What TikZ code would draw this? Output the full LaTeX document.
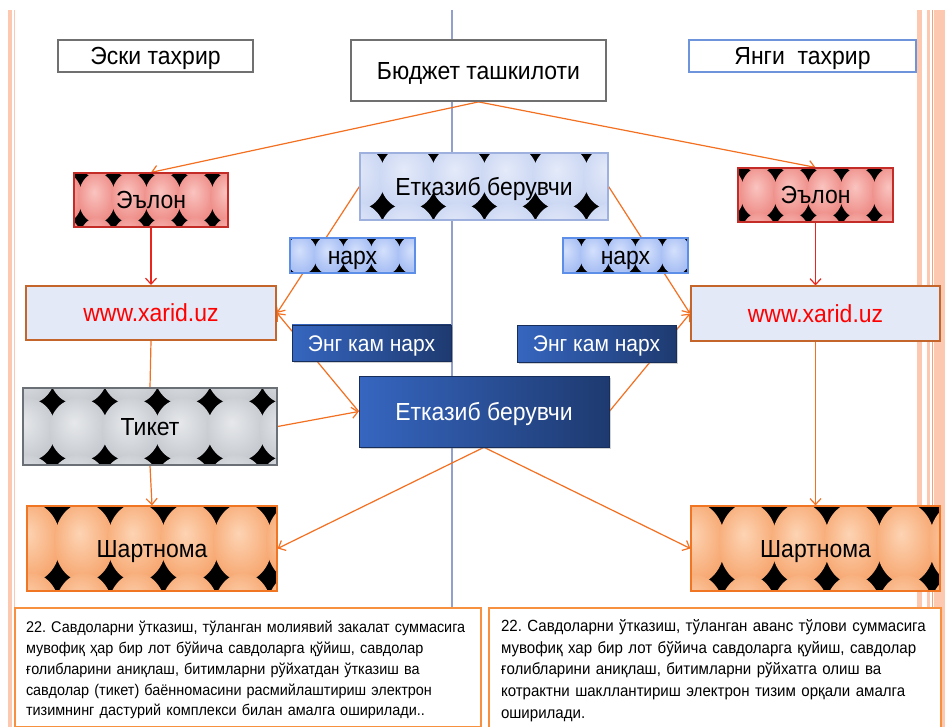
\documentclass[tikz,border=0pt]{standalone}
\usepackage{fontspec}
\setmainfont{Liberation Sans}[FakeStretch=0.93]
\usetikzlibrary{arrows.meta,shadows}
\frenchspacing
\definecolor{orng}{RGB}{243,112,33}
\definecolor{redl}{RGB}{232,38,30}
\definecolor{vline}{RGB}{145,160,204}
\definecolor{salmon}{RGB}{252,200,176}
\definecolor{salmond}{RGB}{246,160,120}
\definecolor{boxgray}{RGB}{112,112,112}
\definecolor{boxblue}{RGB}{110,148,220}
\definecolor{xfill}{RGB}{227,233,246}
\definecolor{xdraw}{RGB}{196,102,44}
\definecolor{txtdraw}{RGB}{247,145,63}
\definecolor{pinkin}{RGB}{250,196,192}
\definecolor{pinkout}{RGB}{230,104,98}
\definecolor{pinkdraw}{RGB}{196,44,40}
\definecolor{lbin}{RGB}{228,234,249}
\definecolor{lbout}{RGB}{184,200,238}
\definecolor{lbdraw}{RGB}{158,176,222}
\definecolor{nbin}{RGB}{212,224,252}
\definecolor{nbout}{RGB}{134,166,238}
\definecolor{nbdraw}{RGB}{93,143,232}
\definecolor{gyin}{RGB}{230,232,235}
\definecolor{gyout}{RGB}{178,183,190}
\definecolor{gydraw}{RGB}{107,112,118}
\definecolor{orin}{RGB}{253,212,180}
\definecolor{orout}{RGB}{243,140,72}
\definecolor{ordraw}{RGB}{240,118,36}
\definecolor{dbl}{RGB}{54,102,192}
\definecolor{dbm}{RGB}{48,92,178}
\definecolor{dbr}{RGB}{30,58,112}
\pgfdeclareradialshading{eggpink}{\pgfpoint{-4bp}{6bp}}{color(0bp)=(pinkin); color(44bp)=(pinkout); color(50bp)=(pinkout)}
\pgfdeclareradialshading{egglb}{\pgfpoint{-4bp}{6bp}}{color(0bp)=(lbin); color(44bp)=(lbout); color(50bp)=(lbout)}
\pgfdeclareradialshading{eggnb}{\pgfpoint{-4bp}{6bp}}{color(0bp)=(nbin); color(44bp)=(nbout); color(50bp)=(nbout)}
\pgfdeclareradialshading{egggy}{\pgfpoint{-4bp}{6bp}}{color(0bp)=(gyin); color(44bp)=(gyout); color(50bp)=(gyout)}
\pgfdeclareradialshading{eggor}{\pgfpoint{-4bp}{6bp}}{color(0bp)=(orin); color(44bp)=(orout); color(50bp)=(orout)}
% #1 node, #2 star x offset, #3 star y offset, #4 dx, #5 dy, #6 shading
\newcommand\eggfill[6]{%
  \begin{scope}
    \clip (#1.north west) rectangle (#1.south east);
    \fill[black] (#1.north west) rectangle (#1.south east);
    \begin{scope}[shift={(#1.north west)}]
      \foreach \i in {-1,...,8}{
        \foreach \j in {-2,...,2}{
          \shade[shading=#6] ({#2+(\i+0.5)*#4},{#3+(\j+0.5)*#5}) ellipse ({0.56*#4} and {0.56*#5});
        }}
    \end{scope}
  \end{scope}}
\newcommand\bigf{\fontsize{24.7}{29}\selectfont}
\newcommand\midf{\fontsize{22.6}{26}\selectfont}
\pgfdeclarelayer{bg}
\pgfdeclarelayer{lines}
\pgfdeclarelayer{pat}
\pgfsetlayers{bg,lines,pat,main}
\tikzset{
  bigtext/.style={font=\bigf, text height=17.7pt, text depth=0pt},
  midtext/.style={font=\midf, text height=16.2pt, text depth=0pt},
  plainbox/.style={draw, line width=1.8, fill=white, inner sep=0, bigtext},
  eggbox/.style={line width=1.2, inner sep=0, bigtext},
  xbox/.style={draw=xdraw, fill=xfill, line width=2, inner sep=0, bigtext, text=red,
     minimum width=250, minimum height=54},
  darkbox/.style={draw=dbr!80!black, line width=0.6, left color=dbl, middle color=dbm, right color=dbr,
     text=white, inner sep=0, drop shadow={opacity=0.35, shadow xshift=2pt, shadow yshift=-2pt}},
  txtbox/.style={draw=txtdraw, fill=white, line width=2, align=left, inner ysep=0},
  conn/.style={draw=orng, line width=1.2, -{Straight Barb[length=6pt,width=11pt]}},
  plainconn/.style={draw=orng, line width=1.2},
  redconn/.style={draw=redl, line width=1.2, -{Straight Barb[length=6pt,width=11pt]}},
}
\begin{document}
\begin{tikzpicture}[x=1pt,y=-1pt]
\useasboundingbox (0,0) rectangle (945,727);
\begin{pgfonlayer}{bg}
  \fill[white] (0,0) rectangle (945,727);
  \fill[salmon] (7.5,10) rectangle (12,727);
  \draw[salmon, line width=1] (14,10) -- (14,727);
  \fill[salmon] (917,10) rectangle (921.5,727);
  \fill[salmon] (926.5,10) rectangle (930,727);
  \draw[salmond, line width=1] (932,10) -- (932,727);
  \fill[salmon] (934,10) rectangle (945,727);
  \draw[vline, line width=1.5] (452,10) -- (452,727);
\end{pgfonlayer}

\node[plainbox, draw=boxgray, minimum width=195, minimum height=32] (eski) at (155.5,56) {Эски тахрир};
\node[plainbox, draw=boxgray, minimum width=255, minimum height=61] (budget) at (478.5,70.5) {Бюджет ташкилоти};
\node[plainbox, draw=boxblue, minimum width=227, minimum height=32] (yangi) at (802.5,56) {Янги\ \ тахрир};

\node[eggbox, draw=lbdraw, minimum width=248, minimum height=67] (etk1) at (484,186.5) {Етказиб берувчи};
\node[eggbox, draw=pinkdraw, minimum width=154, minimum height=54] (eL) at (151,200) {Эълон};
\node[eggbox, draw=pinkdraw, minimum width=155, minimum height=54] (eR) at (815.5,195) {Эълон};
\node[eggbox, draw=nbdraw, minimum width=125, minimum height=35] (nL) at (352.5,255.5) {нарх};
\node[eggbox, draw=nbdraw, minimum width=125, minimum height=35] (nR) at (625.5,255.5) {нарх};

\node[xbox] (xL) at (151,313) {www.xarid.uz};
\node[xbox, minimum width=249] (xR) at (815.5,313.5) {www.xarid.uz};

\node[darkbox, midtext, minimum width=159, minimum height=36] (ekL) at (371.5,343) {Энг кам нарх};
\node[darkbox, midtext, minimum width=159, minimum height=37] (ekR) at (596.5,343.5) {Энг кам нарх};
\node[darkbox, bigtext, minimum width=250, minimum height=71] (etk2) at (484,411.5) {Етказиб берувчи};

\node[eggbox, draw=gydraw, minimum width=254, minimum height=77] (tik) at (150,426.5) {Тикет};
\node[eggbox, draw=ordraw, minimum width=250, minimum height=85] (shL) at (152,548.5) {Шартнома};
\node[eggbox, draw=ordraw, minimum width=249, minimum height=85] (shR) at (815.5,548.5) {Шартнома};

\node[txtbox, font=\fontsize{15.5}{20.75}\selectfont, anchor=north west, inner xsep=11, text width=444, minimum height=119] (txL) at (14,607) {\rule{0pt}{1.1em}\mbox{22. Савдоларни ўтказиш, тўланган молиявий закалат суммасига}\\
\mbox{мувофиқ ҳар бир лот бўйича савдоларга қўйиш, савдолар}\\
\mbox{ғолибларини аниқлаш, битимларни рўйхатдан ўтказиш ва}\\
\mbox{савдолар (тикет) баённомасини расмийлаштириш электрон}\\
\mbox{тизимнинг дастурий комплекси билан амалга оширилади..}};
\node[txtbox, font=\fontsize{16.2}{21.75}\selectfont, anchor=north west, inner xsep=12, text width=428, minimum height=121] (txR) at (488,607) {\rule{0pt}{1.0em}\mbox{22. Савдоларни ўтказиш, тўланган аванс тўлови суммасига}\\
\mbox{мувофиқ хар бир лот бўйича савдоларга қуйиш, савдолар}\\
\mbox{ғолибларини аниқлаш, битимларни рўйхатга олиш ва}\\
\mbox{котрактни шакллантириш электрон тизим орқали амалга}\\
\mbox{оширилади.}};

\begin{pgfonlayer}{pat}
  \eggfill{etk1}{23}{54}{51}{58}{egglb}
  \eggfill{eL}{7}{3}{33}{45}{eggpink}
  \eggfill{eR}{5}{3}{33}{45}{eggpink}
  \eggfill{nL}{26}{0}{28}{35}{eggnb}
  \eggfill{nR}{19}{0}{27}{35}{eggnb}
  \eggfill{tik}{30}{14}{52.5}{57}{egggy}
  \eggfill{shL}{31}{2}{53}{70}{eggor}
  \eggfill{shR}{31.5}{2}{52.5}{72}{eggor}
\end{pgfonlayer}

\begin{pgfonlayer}{lines}
  \draw[conn] (budget.south) -- (eL.north);
  \draw[conn] (budget.south) -- (eR.north);
  \draw[redconn] (eL.south) -- (xL.north);
  \draw[redconn] (eR.south) -- (xR.north);
  \draw[conn] (etk1.west) -- (xL.east);
  \draw[conn] (etk1.east) -- (xR.west);
  \draw[conn] (etk2.west) -- (xL.east);
  \draw[conn] (etk2.east) -- (xR.west);
  \draw[conn] (tik.east) -- (etk2.west);
  \draw[plainconn] (xL.south) -- (tik.north);
  \draw[conn] (tik.south) -- (shL.north);
  \draw[conn] (etk2.south) -- (shL.east);
  \draw[conn] (etk2.south) -- (shR.west);
  \draw[conn] (xR.south) -- (shR.north);
\end{pgfonlayer}
\end{tikzpicture}
\end{document}
